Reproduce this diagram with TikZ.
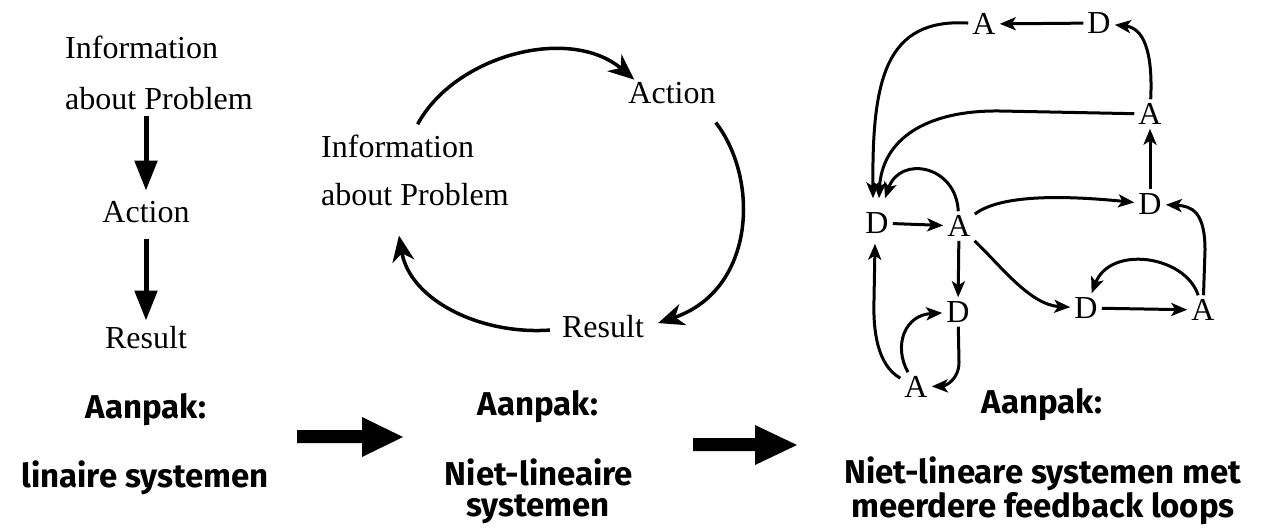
\documentclass[tikz,border=0pt]{standalone}
\usepackage{fontspec}
\setmainfont{Liberation Serif}
\newfontfamily\capfont{Fira Sans}
\usetikzlibrary{arrows.meta}
\begin{document}
\begin{tikzpicture}[x=1pt,y=-1pt,
  lbl/.style={font=\fontsize{32}{36}\selectfont, inner sep=0pt},
  ltr/.style={font=\fontsize{32}{36}\selectfont, inner sep=4pt},
  captxt/.style={font=\capfont\bfseries\fontsize{33}{38}\selectfont, inner sep=0pt},
  bigarr/.style={line width=5pt, -{Triangle[length=30pt,width=22pt]}},
  midarr/.style={line width=3.5pt, -{Stealth[length=26pt,width=22pt,inset=8pt]}},
  smarr/.style={line width=3pt, -{Stealth[length=16pt,width=13pt,inset=4pt]}},
  blockarrow/.style={fill=black}
]
\useasboundingbox (0,0) rectangle (1268,528);
\fill[white] (0,0) rectangle (1268,528);

% ---------- left diagram ----------
\node[lbl, anchor=base west] (l1) at (65,58) {Information};
\node[lbl, anchor=base west] (l2) at (65,109) {about Problem};
\node[lbl, anchor=base] (l3) at (146,222) {Action};
\node[lbl, anchor=base] (l4) at (146,348) {Result};
\draw[bigarr, shorten <=6pt, shorten >=10pt] (l2.south -| l3.north) -- (l3.north);
\draw[bigarr, shorten <=16pt, shorten >=5pt] (l3.south) -- (l4.north);

% ---------- middle diagram ----------
\node[lbl, anchor=base] (m1) at (672,103) {Action};
\node[lbl, anchor=base west] (m2) at (321,157) {Information};
\node[lbl, anchor=base west] (m3) at (321,205) {about Problem};
\node[lbl, anchor=base] (m4) at (603,337) {Result};
\draw[midarr] ([xshift=20pt,yshift=10pt]m2.north) .. controls (455,55) and (570,25) .. ([xshift=6pt,yshift=2pt]m1.north west);
\draw[midarr] ([yshift=-19pt]m1.south east) .. controls (760,180) and (755,290) .. ([xshift=14pt,yshift=3pt]m4.east);
\draw[midarr] ([xshift=-12pt,yshift=-4pt]m4.west) .. controls (480,335) and (410,300) .. ([xshift=-16pt,yshift=-30pt]m3.south);

% ---------- right diagram ----------
\node[ltr] (At) at (984,24) {A};
\node[ltr] (Dt) at (1099,23) {D};
\node[ltr] (Am) at (1150,114) {A};
\node[ltr] (Dl) at (877,223) {D};
\node[ltr] (Ac) at (959,226) {A};
\node[ltr] (Dr) at (1150,204) {D};
\node[ltr] (Ds) at (958,312) {D};
\node[ltr] (Ab) at (916,387) {A};
\node[ltr] (Dm) at (1086,308) {D};
\node[ltr] (Ar) at (1203,310) {A};

\draw[smarr] (Dt) -- (At);
\draw[smarr] (Am) .. controls (1153,50) and (1143,28) .. (Dt);
\draw[smarr] (Dr) -- (Am);
\draw[smarr] (At) .. controls (885,18) and (872,80) .. ([xshift=-4pt,yshift=10pt]Dl.north);
\draw[smarr] (Am) -- (1000,111) .. controls (925,110) and (882,140) .. ([xshift=2pt,yshift=10pt]Dl.north);
\draw[smarr] (Ac) .. controls (956,165) and (900,155) .. ([xshift=8pt,yshift=10pt]Dl.north);
\draw[smarr] (Dl) -- (Ac);
\draw[smarr] (Ac) .. controls (1000,195) and (1060,195) .. (Dr);
\draw[smarr] (Ac) .. controls (1000,265) and (1030,305) .. (Dm);
\draw[smarr] (Ac) -- (Ds);
\draw[smarr] (Dm) -- (Ar);
\draw[smarr] (Ar) .. controls (1185,255) and (1110,245) .. (Dm);
\draw[smarr] (Ar) -- (1205,250) .. controls (1205,212) and (1192,206) .. (Dr);
\draw[smarr] (Ds) -- (959,362) .. controls (959,380) and (945,386) .. (Ab);
\draw[smarr] (Ab) .. controls (893,345) and (905,315) .. (Ds);
\draw[smarr] (Ab) .. controls (877,365) and (873,330) .. (874,300) -- ([xshift=-2pt,yshift=-6pt]Dl.south);

% ---------- block arrows ----------
\fill[blockarrow] (297,430) -- (362,430) -- (362,417) -- (403,437) -- (362,457) -- (362,443) -- (297,443) -- cycle;
\fill[blockarrow] (693,438) -- (755,438) -- (755,425) -- (797,445) -- (755,465) -- (755,451) -- (693,451) -- cycle;

% ---------- captions ----------
\node[captxt, anchor=base] (c1) at (146,418) {Aanpak:};
\node[captxt, anchor=base] (c2) at (145,487) {linaire systemen};
\node[captxt, anchor=base] (c3) at (538,415) {Aanpak:};
\node[captxt, anchor=base] (c4) at (539,485) {Niet-lineaire};
\node[captxt, anchor=base] (c5) at (538,516) {systemen};
\node[captxt, anchor=base] (c6) at (1042,413) {Aanpak:};
\node[captxt, anchor=base] (c7) at (1043,483) {Niet-lineare systemen met};
\node[captxt, anchor=base] (c8) at (1043,517) {meerdere feedback loops};
\end{tikzpicture}
\end{document}
